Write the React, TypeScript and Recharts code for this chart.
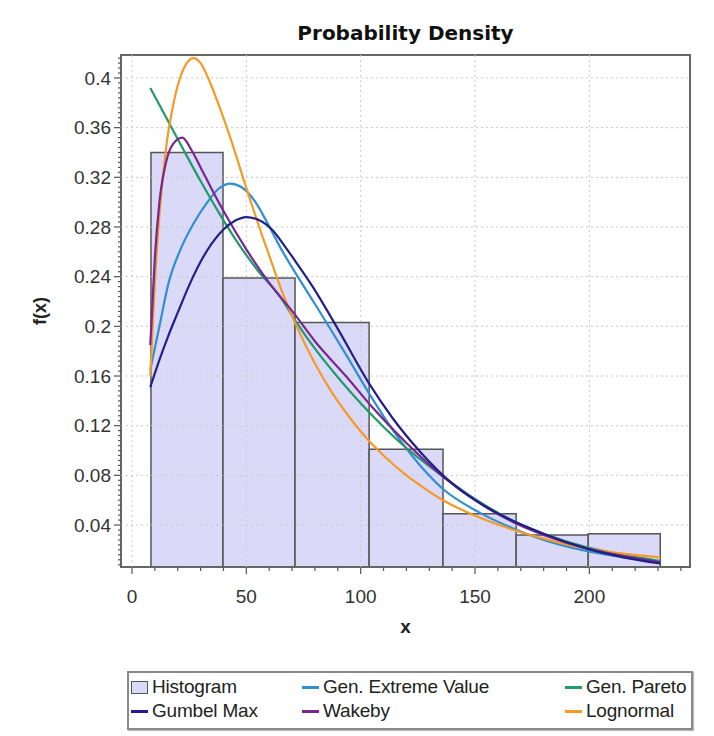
import React from 'react';
import { ComposedChart, Line, XAxis, YAxis, ReferenceArea, ReferenceLine, Label } from 'recharts';

const X_DOMAIN: [number, number] = [-4.8, 244];
const Y_DOMAIN: [number, number] = [0.0062, 0.4185];
const xTicks = [0, 50, 100, 150, 200];
const yTicks = [0.04, 0.08, 0.12, 0.16, 0.2, 0.24, 0.28, 0.32, 0.36, 0.4];
const xAllTicks = [0, 10, 20, 30, 40, 50, 60, 70, 80, 90, 100, 110, 120, 130, 140, 150, 160, 170, 180, 190, 200, 210, 220, 230, 240];
const yAllTicks = Array.from({ length: 103 }, (_, k) => +(0.008 + k * 0.004).toFixed(3));

const histEdges = [8.3, 39.8, 71.3, 103.7, 136, 168, 199.5, 231];
const histHeights = [0.34, 0.239, 0.203, 0.101, 0.049, 0.032, 0.033];

const gevX = [8, 12, 16, 21, 27, 33, 38, 43, 48, 54, 59, 65, 73.5, 80, 94, 104, 115, 126, 136, 152, 167, 180, 199, 215, 231];
const gevY = [0.165, 0.2, 0.235, 0.261, 0.283, 0.3, 0.311, 0.315, 0.312, 0.3, 0.284, 0.263, 0.237, 0.218, 0.176, 0.145, 0.114, 0.088, 0.069, 0.05, 0.037, 0.028, 0.019, 0.014, 0.01];

const paretoX = [8, 15, 22, 30, 38.5, 46, 55, 64.7, 72, 80, 90, 100, 110, 120, 136, 150, 167, 180, 199, 215, 231];
const paretoY = [0.392, 0.368, 0.344, 0.317, 0.29, 0.268, 0.245, 0.224, 0.203, 0.182, 0.159, 0.138, 0.119, 0.102, 0.079, 0.061, 0.043, 0.033, 0.022, 0.016, 0.011];

const gumbelX = [8, 12, 16, 20, 25, 30, 35, 40, 45, 50, 55, 61.7, 67, 72, 79, 90, 104, 114, 126, 136, 150, 167, 180, 199, 215, 231];
const gumbelY = [0.151, 0.173, 0.193, 0.211, 0.233, 0.252, 0.267, 0.278, 0.285, 0.288, 0.286, 0.277, 0.264, 0.251, 0.232, 0.198, 0.153, 0.126, 0.099, 0.08, 0.06, 0.043, 0.033, 0.021, 0.014, 0.009];

const wakebyX = [8, 9, 10, 12, 15, 18, 22, 26, 30, 35, 41.5, 50, 60, 70.6, 80, 94, 105, 120, 136, 150, 167, 180, 199, 215, 231];
const wakebyY = [0.185, 0.22, 0.255, 0.3, 0.333, 0.347, 0.352, 0.342, 0.328, 0.31, 0.288, 0.262, 0.235, 0.211, 0.188, 0.159, 0.135, 0.106, 0.079, 0.06, 0.042, 0.032, 0.021, 0.015, 0.01];

const lognormX = [8, 10, 12, 15, 18, 21, 24, 27, 30, 34, 38, 43, 48, 52, 56, 61.7, 65, 72, 80, 87, 95, 103, 110, 120, 126, 136, 152, 167, 180, 196, 210, 231];
const lognormY = [0.16, 0.235, 0.29, 0.345, 0.378, 0.4, 0.412, 0.416, 0.412, 0.397, 0.378, 0.352, 0.323, 0.3, 0.278, 0.248, 0.231, 0.2, 0.17, 0.148, 0.127, 0.109, 0.096, 0.08, 0.072, 0.06, 0.046, 0.036, 0.029, 0.022, 0.018, 0.014];

const zip = (xs: number[], ys: number[]) => xs.map((x, i) => ({ x, y: ys[i] }));

const COLORS = {
  hist: '#dadaf8',
  gev: '#2f8fd0',
  pareto: '#1f9a6a',
  gumbel: '#20208a',
  wakeby: '#7a2590',
  lognorm: '#f59a25',
};

const series = [
  { name: 'Gen. Extreme Value', color: COLORS.gev, data: zip(gevX, gevY) },
  { name: 'Gen. Pareto', color: COLORS.pareto, data: zip(paretoX, paretoY) },
  { name: 'Lognormal', color: COLORS.lognorm, data: zip(lognormX, lognormY) },
  { name: 'Wakeby', color: COLORS.wakeby, data: zip(wakebyX, wakebyY) },
  { name: 'Gumbel Max', color: COLORS.gumbel, data: zip(gumbelX, gumbelY) },
];

const legendItems = [
  { name: 'Histogram', color: COLORS.hist, box: true, col: 0, row: 0 },
  { name: 'Gen. Extreme Value', color: COLORS.gev, box: false, col: 1, row: 0 },
  { name: 'Gen. Pareto', color: COLORS.pareto, box: false, col: 2, row: 0 },
  { name: 'Gumbel Max', color: COLORS.gumbel, box: false, col: 0, row: 1 },
  { name: 'Wakeby', color: COLORS.wakeby, box: false, col: 1, row: 1 },
  { name: 'Lognormal', color: COLORS.lognorm, box: false, col: 2, row: 1 },
];
const legendColX = [4, 175, 438];
const legendRowY = [16, 40];

const FONT = '"Liberation Sans", Arial, sans-serif';
const TICK_FONT = 19;
const X_TICK_SIZE = 7;
const X_TICK_MARGIN = 16;
const Y_TICK_SIZE = 7;
const Y_TICK_MARGIN = 3;
const fmtY = (v: number) => String(Number(v.toFixed(2)));
const isMajor = (arr: number[], v: number) => arr.some((t) => Math.abs(t - v) < 1e-9);

const XTick = (props: any) => {
  const { x, y, payload } = props;
  const v = payload.value;
  const major = isMajor(xTicks, v);
  const axisY = y - X_TICK_SIZE - X_TICK_MARGIN;
  return (
    <g>
      <line x1={x} x2={x} y1={axisY} y2={axisY + (major ? X_TICK_SIZE : 4)} stroke="#555" strokeWidth={1.2} />
      {major && (
        <text x={x} y={y} dy="0.71em" textAnchor="middle" fill="#333" fontSize={TICK_FONT} fontFamily={FONT}>
          {String(v)}
        </text>
      )}
    </g>
  );
};

const YTick = (props: any) => {
  const { x, y, payload } = props;
  const v = payload.value;
  const major = isMajor(yTicks, v);
  const axisX = x + Y_TICK_SIZE + Y_TICK_MARGIN;
  return (
    <g>
      <line x1={axisX} x2={axisX - (major ? Y_TICK_SIZE : 3)} y1={y} y2={y} stroke="#555" strokeWidth={1.2} />
      {major && (
        <text x={x} y={y} dy="0.355em" textAnchor="end" fill="#333" fontSize={TICK_FONT} fontFamily={FONT}>
          {fmtY(v)}
        </text>
      )}
    </g>
  );
};

export default function App() {
  return (
    <div style={{ position: 'relative', width: 698, height: 728, fontFamily: FONT }}>
      <div
        style={{
          position: 'absolute', left: 113, top: 13, width: 569, textAlign: 'center',
          fontFamily: '"DejaVu Sans", sans-serif', fontWeight: 700, fontSize: 20, lineHeight: '24px', color: '#111',
        }}
      >
        Probability Density
      </div>
      <ComposedChart width={698} height={640} margin={{ top: 47, right: 16, left: 0, bottom: 15 }}>
        <XAxis type="number" dataKey="x" domain={X_DOMAIN} allowDataOverflow ticks={xAllTicks} interval={0}
          tickSize={X_TICK_SIZE} tickMargin={X_TICK_MARGIN} axisLine={false} tickLine={false} height={66}
          tick={(p: any) => <XTick {...p} />}>
          <Label value="x" position="insideBottom" offset={0} style={{ fontWeight: 700, fontSize: 19, fill: '#222', fontFamily: FONT }} />
        </XAxis>
        <YAxis type="number" domain={Y_DOMAIN} allowDataOverflow ticks={yAllTicks} interval={0}
          tickSize={Y_TICK_SIZE} tickMargin={Y_TICK_MARGIN} axisLine={false} tickLine={false} width={113}
          tick={(p: any) => <YTick {...p} />}>
          <Label value="f(x)" angle={-90} position="insideLeft" offset={32}
            style={{ textAnchor: 'middle', fontWeight: 700, fontSize: 18, fill: '#222', fontFamily: FONT }} />
        </YAxis>

        {yTicks.map((v) => (
          <ReferenceLine key={'gy' + v} y={v} stroke="#c8c8c8" strokeDasharray="2 3" ifOverflow="visible" />
        ))}
        {xTicks.map((v) => (
          <ReferenceLine key={'gx' + v} x={v} stroke="#c8c8c8" strokeDasharray="2 3" ifOverflow="visible" />
        ))}

        {histHeights.map((h, i) => (
          <ReferenceArea key={'bin' + i} x1={histEdges[i]} x2={histEdges[i + 1]} y1={Y_DOMAIN[0]} y2={h}
            fill={COLORS.hist} fillOpacity={1} stroke="#555" strokeWidth={1.5} ifOverflow="visible" />
        ))}

        {series.map((s) => (
          <Line key={s.name} data={s.data} dataKey="y" type="monotone" stroke={s.color} strokeWidth={2.2}
            dot={false} activeDot={false} isAnimationActive={false} name={s.name} />
        ))}

        <ReferenceArea x1={X_DOMAIN[0]} x2={X_DOMAIN[1]} y1={Y_DOMAIN[0]} y2={Y_DOMAIN[1]}
          fill="none" stroke="#666" strokeWidth={2} ifOverflow="visible" />
      </ComposedChart>
      <div
        style={{
          position: 'absolute', left: 119, top: 663, width: 566, height: 59, boxSizing: 'border-box',
          border: '2px solid #888', boxShadow: '1px 1px 1px #bbb', background: '#fff',
        }}
      >
        {legendItems.map((it) => (
          <div key={it.name} style={{
            position: 'absolute', left: legendColX[it.col] - 2, top: legendRowY[it.row] - 2 - 11, height: 22,
            display: 'flex', alignItems: 'center', whiteSpace: 'nowrap',
          }}>
            {it.box ? (
              <span style={{ display: 'inline-block', width: 15, height: 11, background: it.color, border: '1.5px solid #555', marginRight: 4 }} />
            ) : (
              <span style={{ display: 'inline-block', width: 17, height: 3, background: it.color, marginRight: 4 }} />
            )}
            <span style={{ fontSize: 19, color: '#222', fontFamily: FONT, letterSpacing: -0.2 }}>{it.name}</span>
          </div>
        ))}
      </div>
    </div>
  );
}
